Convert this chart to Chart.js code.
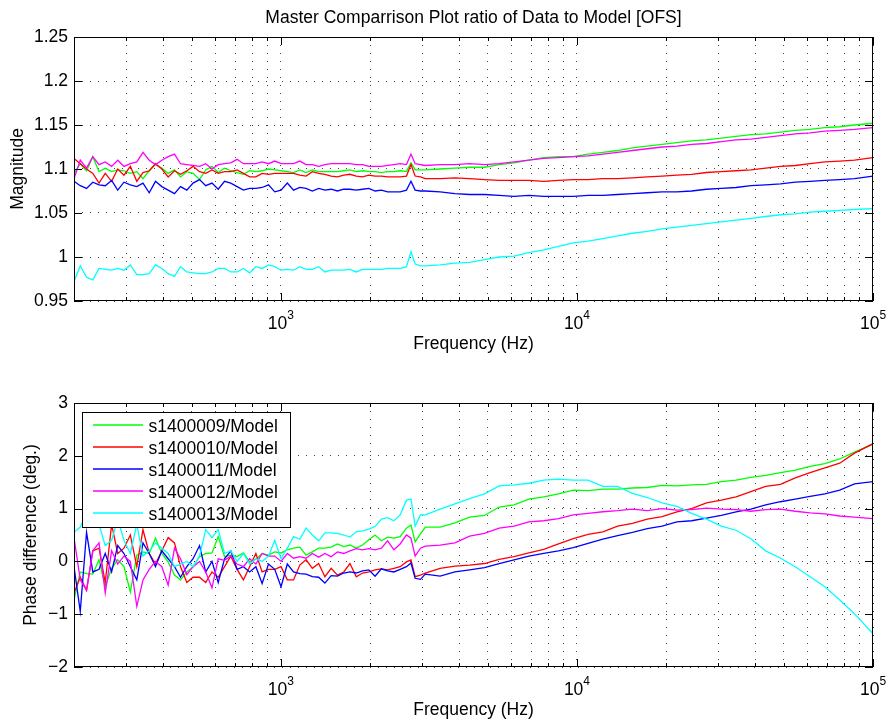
<!DOCTYPE html>
<html><head><meta charset="utf-8">
<script src="https://cdn.jsdelivr.net/npm/chart.js@4.4.1/dist/chart.umd.min.js"></script>
<style>
html,body{margin:0;padding:0;background:#fff;}
#wrap{position:relative;width:891px;height:724px;overflow:hidden;}
canvas{position:absolute;left:0;}
#c1{top:0;}
#c2{top:362px;}
</style></head><body>
<div id="wrap"><canvas id="c1" width="891" height="362"></canvas><canvas id="c2" width="891" height="362"></canvas></div>
<script>
const FONT = '"Liberation Sans", Arial, Helvetica, sans-serif';

const freqHz = [
 200,210,220.5,231.5,243,255,268,281,295,310,
 326,342,359,377,396,416,437,458,481,505,
 531,557,585,614,645,677,711,747,784,823,
 864,908,953,1001,1051,1103,1158,1216,1277,1341,
 1408,1478,1552,1630,1711,1797,1887,1981,2080,2184,
 2293,2408,2528,2655,2750,2840,2960,3073,
 3450,3870,4340,4870,5460,6130,6880,7720,8660,
 9720,10900,12230,13720,15400,17280,19390,21750,24400,27380,30720,34470,38680,43400,48700,54640,61300,68780,77180,86600,100000];

const xGridTicks = [200,300,400,500,600,700,800,900,1000,2000,3000,4000,5000,6000,7000,8000,9000,10000,20000,30000,40000,50000,60000,70000,80000,90000,100000];
const xDecades = [1000,10000,100000];
const xDecadeExps = ['3','4','5'];
const magTicks = [0.95,1,1.05,1.1,1.15,1.2,1.25];
const phaseTicks = [-2,-1,0,1,2,3];

const seriesNames = ['s1400009/Model','s1400010/Model','s1400011/Model','s1400012/Model','s1400013/Model'];
const seriesColors = ['#00ff00','#ff0000','#0000ff','#ff00ff','#00ffff'];

const magS09 = [
 1.095,1.106,1.098,1.114,1.097,1.101,1.097,1.099,1.098,1.095,
 1.097,1.089,1.098,1.105,1.101,1.095,1.099,1.091,1.097,1.095,
 1.088,1.099,1.103,1.096,1.101,1.098,1.096,1.094,1.098,1.097,
 1.098,1.100,1.099,1.098,1.097,1.096,1.099,1.096,1.099,1.097,
 1.097,1.097,1.097,1.098,1.099,1.097,1.098,1.097,1.097,1.096,
 1.097,1.097,1.098,1.097,1.107,1.099,1.099,1.099,
 1.100,1.101,1.102,1.102,1.105,1.107,1.110,1.113,1.114,
 1.114,1.117,1.119,1.121,1.124,1.126,1.128,1.130,1.132,1.133,1.135,1.137,1.139,1.140,1.142,1.144,1.145,1.147,1.148,1.150,1.152];
const magS10 = [
 1.112,1.106,1.100,1.095,1.084,1.095,1.086,1.100,1.093,1.103,
 1.086,1.096,1.098,1.106,1.100,1.091,1.098,1.094,1.098,1.103,
 1.097,1.095,1.099,1.095,1.097,1.097,1.099,1.095,1.091,1.091,
 1.095,1.094,1.095,1.095,1.095,1.095,1.093,1.092,1.097,1.095,
 1.094,1.092,1.091,1.093,1.094,1.092,1.091,1.093,1.092,1.092,
 1.091,1.091,1.091,1.092,1.105,1.092,1.091,1.089,
 1.089,1.090,1.089,1.088,1.087,1.087,1.087,1.086,1.087,
 1.088,1.088,1.089,1.089,1.090,1.091,1.092,1.093,1.094,1.096,1.097,1.098,1.099,1.101,1.103,1.104,1.106,1.108,1.109,1.110,1.113];
const magS11 = [
 1.086,1.081,1.078,1.085,1.082,1.081,1.087,1.076,1.085,1.082,
 1.080,1.084,1.073,1.086,1.080,1.076,1.072,1.080,1.076,1.084,
 1.088,1.081,1.084,1.077,1.086,1.084,1.080,1.076,1.078,1.078,
 1.079,1.082,1.074,1.076,1.084,1.076,1.079,1.078,1.075,1.078,
 1.076,1.077,1.075,1.077,1.077,1.076,1.077,1.078,1.075,1.076,
 1.074,1.074,1.074,1.076,1.086,1.076,1.075,1.075,
 1.074,1.072,1.071,1.071,1.070,1.069,1.070,1.069,1.069,
 1.069,1.070,1.070,1.071,1.072,1.073,1.074,1.074,1.075,1.077,1.078,1.079,1.081,1.082,1.083,1.085,1.086,1.087,1.088,1.089,1.092];
const magS12 = [
 1.089,1.110,1.101,1.114,1.105,1.108,1.103,1.110,1.103,1.106,
 1.108,1.119,1.110,1.105,1.110,1.114,1.117,1.106,1.105,1.104,
 1.103,1.106,1.100,1.105,1.106,1.107,1.111,1.106,1.106,1.106,
 1.108,1.106,1.109,1.106,1.106,1.106,1.109,1.105,1.105,1.103,
 1.105,1.106,1.106,1.106,1.106,1.105,1.105,1.103,1.103,1.103,
 1.104,1.105,1.106,1.105,1.117,1.106,1.105,1.104,
 1.105,1.105,1.106,1.105,1.106,1.108,1.110,1.112,1.113,
 1.114,1.115,1.117,1.119,1.121,1.123,1.125,1.126,1.128,1.129,1.131,1.133,1.134,1.136,1.138,1.140,1.141,1.143,1.144,1.145,1.147];
const magS13 = [
 0.972,0.990,0.977,0.974,0.987,0.986,0.985,0.987,0.985,0.991,
 0.980,0.980,0.981,0.991,0.987,0.981,0.978,0.989,0.983,0.982,
 0.981,0.981,0.983,0.987,0.987,0.983,0.983,0.987,0.982,0.989,
 0.987,0.991,0.989,0.985,0.986,0.985,0.989,0.986,0.986,0.989,
 0.983,0.985,0.985,0.985,0.986,0.983,0.986,0.986,0.986,0.986,
 0.987,0.987,0.987,0.989,1.006,0.992,0.990,0.990,
 0.991,0.993,0.994,0.997,1.000,1.001,1.005,1.008,1.012,
 1.016,1.018,1.021,1.024,1.027,1.029,1.032,1.034,1.036,1.038,1.040,1.042,1.044,1.046,1.048,1.049,1.051,1.052,1.053,1.054,1.055];

const phaseS09 = [
 -0.73,-0.2,-0.23,-0.24,0.03,-0.48,-0.13,0.03,-0.1,-0.58,
 0.12,0.18,0.15,0.44,0.15,-0.01,-0.26,-0.35,-0.2,-0.1,
 0.09,0.15,0.16,0.47,0.09,0.12,0.09,0.16,-0.01,0.04,
 0.15,0.12,0.18,0.16,0.22,0.25,0.27,0.12,0.18,0.25,
 0.25,0.27,0.33,0.28,0.31,0.25,0.31,0.41,0.5,0.39,
 0.46,0.44,0.47,0.63,0.69,0.37,0.52,0.65,
 0.65,0.73,0.84,0.87,1.03,1.07,1.18,1.22,1.28,
 1.35,1.34,1.37,1.37,1.39,1.40,1.44,1.43,1.45,1.46,1.51,1.54,1.59,1.63,1.68,1.73,1.80,1.85,1.94,2.07,2.22];
const phaseS10 = [
 -0.6,-0.3,-0.55,0.2,0.25,-0.4,0.7,0.15,0.25,0.5,
 -0.1,0.6,0.15,-0.05,0.2,0.45,0.35,-0.1,-0.4,-0.3,
 -0.3,-0.4,-0.2,-0.3,-0.1,0.1,-0.15,-0.35,-0.1,0.15,
 -0.2,-0.15,-0.15,-0.1,-0.35,-0.35,-0.07,0.03,-0.13,-0.04,
 -0.29,-0.13,-0.26,-0.2,-0.04,-0.29,-0.22,-0.2,-0.16,-0.14,
 -0.16,-0.13,-0.1,-0.01,0.03,-0.29,-0.26,-0.22,
 -0.13,-0.09,-0.07,-0.04,0.04,0.09,0.16,0.23,0.33,
 0.43,0.51,0.56,0.67,0.72,0.80,0.85,0.94,1.0,1.11,1.16,1.22,1.32,1.42,1.46,1.58,1.68,1.77,1.86,2.05,2.23];
const phaseS11 = [
 -0.1,-0.95,0.55,-0.2,-0.15,0.15,-0.2,0.3,0.15,-0.1,
 -0.35,0.35,0.15,-0.1,0.2,0.05,-0.1,-0.3,-0.1,0.05,
 0.3,-0.2,0.0,-0.4,0.05,0.2,-0.15,-0.1,-0.2,-0.1,
 -0.42,-0.05,-0.15,-0.48,-0.05,-0.2,-0.23,-0.24,-0.29,-0.3,
 -0.41,-0.27,-0.28,-0.22,-0.2,-0.22,-0.18,-0.16,-0.28,-0.14,
 -0.18,-0.2,-0.15,-0.1,-0.03,-0.32,-0.34,-0.24,
 -0.28,-0.2,-0.16,-0.12,-0.04,0.03,0.1,0.15,0.2,
 0.26,0.34,0.42,0.49,0.55,0.62,0.67,0.75,0.77,0.82,0.87,0.94,0.99,1.07,1.13,1.18,1.23,1.28,1.35,1.47,1.51];
const phaseS12 = [
 0.45,-0.35,-0.55,0.2,0.35,-0.6,0.2,-0.05,0.1,0.0,
 -0.85,-0.35,-0.15,0.0,-0.1,-0.45,0.25,0.05,-0.25,-0.1,
 0.0,-0.2,-0.5,0.05,0.02,0.1,-0.05,-0.1,0.05,-0.05,
 0.15,0.1,0.1,0.0,0.15,0.06,0.09,0.06,0.15,0.08,
 0.15,0.09,0.18,0.15,0.2,0.24,0.22,0.24,0.22,0.25,
 0.39,0.22,0.33,0.5,0.44,0.1,0.25,0.29,
 0.31,0.35,0.48,0.53,0.63,0.67,0.75,0.77,0.81,
 0.88,0.91,0.94,0.96,0.99,0.96,1.0,0.97,0.98,1.01,0.99,0.98,0.95,0.98,0.99,0.95,0.92,0.90,0.86,0.84,0.81];
const phaseS13 = [
 0.55,0.65,0.9,1.0,0.7,0.3,0.4,0.8,0.4,0.15,
 0.7,0.1,0.2,0.35,0.25,0.15,-0.1,-0.05,0.0,-0.1,
 0.1,0.6,0.45,0.6,0.15,0.2,0.0,0.15,-0.05,0.05,
 0.0,0.1,0.4,0.05,0.25,0.47,0.42,0.63,0.5,0.39,
 0.54,0.54,0.53,0.5,0.46,0.56,0.58,0.61,0.66,0.8,
 0.83,0.77,0.88,1.16,1.18,0.67,0.88,0.88,
 0.99,1.09,1.19,1.28,1.43,1.45,1.48,1.54,1.56,
 1.54,1.54,1.42,1.42,1.29,1.21,1.11,1.04,0.91,0.80,0.67,0.59,0.43,0.20,0.06,-0.10,-0.29,-0.48,-0.73,-0.99,-1.37];

const magSeries = [magS09, magS10, magS11, magS12, magS13];
const phaseSeries = [phaseS09, phaseS10, phaseS11, phaseS12, phaseS13];

function makeDatasets(list) {
  return list.map((vals, i) => ({
    label: seriesNames[i],
    data: freqHz.map((f, j) => ({x: f, y: vals[j]})),
    borderColor: seriesColors[i],
    backgroundColor: seriesColors[i],
    borderWidth: 1.3,
    pointRadius: 0,
    fill: false,
    tension: 0,
    order: 5 - i
  }));
}

function makeOptions(yMin, yMax, yTicks, yFmt, padTop, xAxisH) {
  return {
    responsive: false, maintainAspectRatio: false, animation: false, devicePixelRatio: 1,
    events: [],
    layout: {padding: {left: 0, right: 18, top: padTop, bottom: 0}},
    plugins: {legend: {display: false}, tooltip: {enabled: false}, title: {display: false}},
    scales: {
      x: {
        type: 'logarithmic', min: 200, max: 100000,
        afterBuildTicks: s => { s.ticks = xGridTicks.map(v => ({value: v})); },
        afterFit: s => { s.height = xAxisH; },
        ticks: {callback: () => '', autoSkip: false, maxRotation: 0, minRotation: 0},
        grid: {color: '#444', lineWidth: 1, drawTicks: false},
        border: {display: false, dash: [1, 7]}
      },
      y: {
        type: 'linear', min: yMin, max: yMax,
        afterBuildTicks: s => { s.ticks = yTicks.map(v => ({value: v})); },
        afterFit: s => { s.width = 74; },
        ticks: {callback: yFmt, color: '#000', font: {size: 17.5, family: FONT}, padding: 6},
        grid: {color: '#444', lineWidth: 1, drawTicks: false},
        border: {display: false, dash: [1, 7]}
      }
    }
  };
}

function framePlugin(cfg) {
  return {
    id: 'frame' + cfg.key,
    afterDraw(chart) {
      const ctx = chart.ctx, a = chart.chartArea, xs = chart.scales.x, ys = chart.scales.y;
      ctx.save();
      ctx.setLineDash([]);
      ctx.strokeStyle = '#000';
      ctx.lineWidth = 1;
      ctx.beginPath();
      xGridTicks.forEach(v => {
        const px = Math.round(xs.getPixelForValue(v)) + 0.5;
        const len = xDecades.includes(v) ? 8 : 4;
        ctx.moveTo(px, a.bottom); ctx.lineTo(px, a.bottom - len);
        ctx.moveTo(px, a.top); ctx.lineTo(px, a.top + len);
      });
      ys.ticks.forEach(t => {
        const py = Math.round(ys.getPixelForValue(t.value)) + 0.5;
        ctx.moveTo(a.left, py); ctx.lineTo(a.left + 8, py);
        ctx.moveTo(a.right, py); ctx.lineTo(a.right - 8, py);
      });
      ctx.stroke();
      ctx.strokeRect(a.left + 0.5, a.top + 0.5, a.right - a.left - 1, a.bottom - a.top - 1);

      // x decade labels with superscript exponent
      ctx.fillStyle = '#000';
      ctx.textAlign = 'left';
      ctx.textBaseline = 'alphabetic';
      xDecades.forEach((v, k) => {
        const px = xs.getPixelForValue(v);
        ctx.font = '17.5px ' + FONT;
        const wb = ctx.measureText('10').width;
        ctx.font = '12px ' + FONT;
        const we = ctx.measureText(xDecadeExps[k]).width;
        const x0 = px - (wb + we) / 2;
        ctx.font = '17.5px ' + FONT;
        ctx.fillText('10', x0, a.bottom + 27.5);
        ctx.font = '12px ' + FONT;
        ctx.fillText(xDecadeExps[k], x0 + wb, a.bottom + 17.5);
      });

      ctx.font = '17.5px ' + FONT;
      ctx.textAlign = 'center';
      ctx.fillText('Frequency (Hz)', (a.left + a.right) / 2, a.bottom + 47.5);
      if (cfg.title) ctx.fillText(cfg.title, (a.left + a.right) / 2, a.top - 14);
      ctx.save();
      ctx.translate(cfg.yTitleX, (a.top + a.bottom) / 2);
      ctx.rotate(-Math.PI / 2);
      ctx.fillText(cfg.yTitle, 0, 0);
      ctx.restore();

      if (cfg.legend) {
        const lx = a.left + 8, ly = a.top + 9, lw = 208, lh = 115;
        ctx.fillStyle = '#fff';
        ctx.fillRect(lx, ly, lw, lh);
        ctx.strokeStyle = '#000';
        ctx.lineWidth = 1;
        ctx.strokeRect(lx + 0.5, ly + 0.5, lw, lh);
        seriesNames.forEach((name, i) => {
          const cy = ly + 13 + i * 22.1;
          ctx.strokeStyle = seriesColors[i];
          ctx.lineWidth = 1.6;
          ctx.beginPath();
          ctx.moveTo(lx + 11, Math.round(cy));
          ctx.lineTo(lx + 61, Math.round(cy));
          ctx.stroke();
          ctx.fillStyle = '#000';
          ctx.textAlign = 'left';
          ctx.font = '17.5px ' + FONT;
          ctx.fillText(name, lx + 66.5, cy + 6.8);
        });
      }
      ctx.restore();
    }
  };
}

new Chart(document.getElementById('c1'), {
  type: 'line',
  data: {datasets: makeDatasets(magSeries)},
  options: makeOptions(0.95, 1.25, magTicks, v => String(v), 37, 61),
  plugins: [framePlugin({key: 'mag', title: 'Master Comparrison Plot ratio of Data to Model [OFS]', yTitle: 'Magnitude', yTitleX: 22.5, legend: false})]
});

new Chart(document.getElementById('c2'), {
  type: 'line',
  data: {datasets: makeDatasets(phaseSeries)},
  options: makeOptions(-2, 3, phaseTicks, v => (v < 0 ? '\u2212' + Math.abs(v) : String(v)), 41, 57),
  plugins: [framePlugin({key: 'phase', title: null, yTitle: 'Phase difference (deg.)', yTitleX: 36, legend: true})]
});
</script>
</body></html>
